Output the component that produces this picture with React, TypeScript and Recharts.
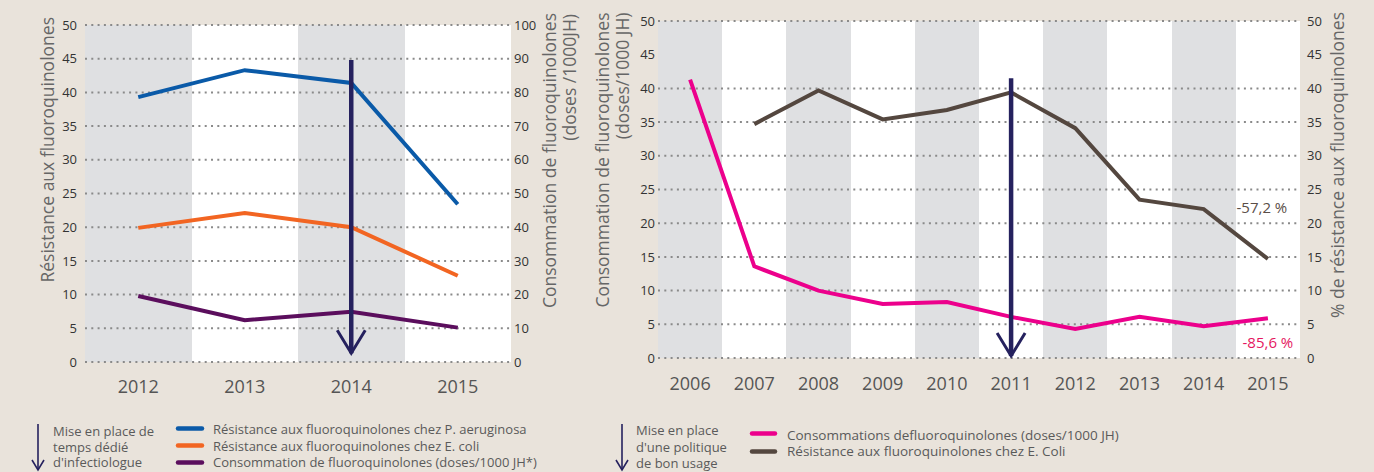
import React from 'react';
import { ComposedChart, Line, XAxis, YAxis, CartesianGrid, ReferenceLine, LabelList } from 'recharts';

const FONT = '"Open Sans", "Noto Sans", sans-serif';
const BG = '#e9e3db';
const GREY_BAND = '#dfe0e2';
const NAVY = '#25215e';
const TEXT = '#5a5a5a';

// --- chart 1 : 2012-2015
const yearsA = ['2012', '2013', '2014', '2015'];
const resPaeruginosa = [39.3, 43.3, 41.4, 23.4];
const resEcoliA = [19.9, 22.1, 20.0, 12.8];
const consoA = [19.6, 12.4, 14.9, 10.2];
const ticksLeftA = [0, 5, 10, 15, 20, 25, 30, 35, 40, 45, 50];
const ticksRightA = [0, 10, 20, 30, 40, 50, 60, 70, 80, 90, 100];
const namesA = [
  'Résistance aux fluoroquinolones chez P. aeruginosa',
  'Résistance aux fluoroquinolones chez E. coli',
  'Consommation de fluoroquinolones (doses/1000 JH*)',
];
const colorsA = ['#0a5aa8', '#f26522', '#5b0e5d'];

// --- chart 2 : 2006-2015
const yearsB = ['2006', '2007', '2008', '2009', '2010', '2011', '2012', '2013', '2014', '2015'];
const consoB = [41.3, 13.6, 10.0, 8.0, 8.3, 6.1, 4.3, 6.1, 4.7, 5.9];
const resEcoliB = [null, 34.7, 39.7, 35.4, 36.8, 39.4, 34.1, 23.5, 22.1, 14.7];
const ticksB = [0, 5, 10, 15, 20, 25, 30, 35, 40, 45, 50];
const gridB = [0, 5, 10, 15, 20, 25, 30, 35, 40, 50];
const namesB = [
  'Consommations defluoroquinolones (doses/1000 JH)',
  'Résistance aux fluoroquinolones chez E. Coli',
];
const colorsB = ['#ec008c', '#54473f'];
const changeB = ['-85,6 %', '-57,2 %'];

const dataA = yearsA.map((year, i) => ({ year, pa: resPaeruginosa[i], ec: resEcoliA[i], conso: consoA[i] }));
const dataB = yearsB.map((year, i) => ({ year, conso: consoB[i], ec: resEcoliB[i] }));

const tickStyle = { fontSize: 13, fill: '#333', fontFamily: FONT };
const yearStyle = { fontSize: 18, fill: '#555', fontFamily: FONT };

// grey / white stripes start at every band
const bandStarts = (cats: string[]) => ({ xAxis }: any) => {
  const s = xAxis?.scale;
  if (!s) return [];
  const f = typeof s === 'function' ? s : (v: string) => s.map(v);
  return cats.map((c) => f(c)).filter((v: any) => typeof v === 'number' && !isNaN(v));
};
const noLine = (p: any) => <g key={p.key ?? `v${p.index}`} />;

// dotted horizontal rules
const dotted = (values: number[]) =>
  values.map((v) => (
    <ReferenceLine key={`g${v}`} y={v} stroke="#8a8a8a" strokeDasharray="2 4.3" strokeWidth={2} />
  ));

const Arrow = (p: any) => {
  const { x1, y1, x2, y2 } = p;
  const top = Math.min(y1, y2);
  const tip = Math.max(y1, y2);
  const x = x1 ?? x2;
  return (
    <g>
      <line x1={x} y1={top} x2={x} y2={tip} stroke={NAVY} strokeWidth={4.5} />
      <polyline points={`${x - 14},${tip - 23} ${x},${tip} ${x + 14},${tip - 23}`} fill="none" stroke={NAVY} strokeWidth={3} />
    </g>
  );
};

const endLabel = (text: string, color: string, last: number, dx: number, dy: number) => (p: any) => {
  const idx = p.index;
  const isLast = idx !== undefined ? idx === last : false;
  if (!isLast) return <g key={`l${idx}`} />;
  const x = p.x ?? p.viewBox?.x;
  const y = p.y ?? p.viewBox?.y;
  return (
    <text key="end" x={x + dx} y={y + dy} textAnchor="middle" fill={color}
      style={{ fontFamily: '"Liberation Sans Narrow", "Open Sans", sans-serif', fontSize: 15 }}>
      {text}
    </text>
  );
};

const Title = ({ x, y, children, size = 17.5 }: any) => (
  <text x={x} y={y} transform={`rotate(-90 ${x} ${y})`} textAnchor="end" fill="#666"
    style={{ fontFamily: FONT, fontSize: size }}>
    {children}
  </text>
);

const legendText = { fontFamily: FONT, fontSize: 13, fill: TEXT };

export default function App() {
  return (
    <div style={{ position: 'absolute', left: 0, top: 0, width: 1374, height: 472, background: BG, overflow: 'hidden' }}>
      <div style={{ position: 'absolute', left: 0, top: 0 }}>
        <ComposedChart width={600} height={400} data={dataA} margin={{ top: 25, right: 0, bottom: 0, left: 0 }}>
          <CartesianGrid horizontal={false} verticalCoordinatesGenerator={bandStarts(yearsA)}
            verticalFill={[GREY_BAND, '#ffffff']} vertical={noLine} />
          <XAxis dataKey="year" scale="band" interval={0} axisLine={false} tickLine={false} tickSize={0} tickMargin={18} height={38} tick={yearStyle} />
          <YAxis domain={[0, 50]} ticks={ticksLeftA} interval={0} width={85} axisLine={false} tickLine={false} tickSize={0} tickMargin={8} tick={tickStyle} />
          <YAxis yAxisId="r" orientation="right" domain={[0, 100]} ticks={ticksRightA} interval={0} width={89} axisLine={false} tickLine={false} tickSize={0} tickMargin={3} tick={{ ...tickStyle, textAnchor: 'start' }} />
          {dotted(ticksLeftA)}
          <Line dataKey="pa" stroke={colorsA[0]} strokeWidth={4} dot={false} isAnimationActive={false} />
          <Line dataKey="ec" stroke={colorsA[1]} strokeWidth={4} dot={false} isAnimationActive={false} />
          <Line yAxisId="r" dataKey="conso" stroke={colorsA[2]} strokeWidth={4} dot={false} isAnimationActive={false} />
          <ReferenceLine segment={[{ x: '2014', y: 44.8 }, { x: '2014', y: 1.3 }]} shape={Arrow} />
        </ComposedChart>
      </div>

      <div style={{ position: 'absolute', left: 580, top: 0 }}>
        <ComposedChart width={780} height={396} data={dataB} margin={{ top: 21, right: 0, bottom: 0, left: 0 }}>
          <CartesianGrid horizontal={false} verticalCoordinatesGenerator={bandStarts(yearsB)}
            verticalFill={[GREY_BAND, '#ffffff']} vertical={noLine} />
          <XAxis dataKey="year" scale="band" interval={0} axisLine={false} tickLine={false} tickSize={0} tickMargin={19} height={38} tick={yearStyle} />
          <YAxis domain={[0, 50]} ticks={ticksB} interval={0} width={78} axisLine={false} tickLine={false} tickSize={0} tickMargin={3} tick={tickStyle} />
          <YAxis yAxisId="r" orientation="right" domain={[0, 50]} ticks={ticksB} interval={0} width={60} axisLine={false} tickLine={false} tickSize={0} tickMargin={7} tick={{ ...tickStyle, textAnchor: 'start' }} />
          {dotted(gridB)}
          <Line dataKey="conso" stroke={colorsB[0]} strokeWidth={4} dot={false} isAnimationActive={false}>
            <LabelList dataKey="conso" content={endLabel(changeB[0], '#e5175f', yearsB.length - 1, 0, 30)} />
          </Line>
          <Line yAxisId="r" dataKey="ec" stroke={colorsB[1]} strokeWidth={4} dot={false} isAnimationActive={false}>
            <LabelList dataKey="ec" content={endLabel(changeB[1], '#5a4e48', yearsB.length - 1, -6, -46)} />
          </Line>
          <ReferenceLine segment={[{ x: '2011', y: 41.5 }, { x: '2011', y: 0.3 }]} shape={Arrow} />
        </ComposedChart>
      </div>

      <svg width={1374} height={472} style={{ position: 'absolute', left: 0, top: 0, pointerEvents: 'none' }}>
        <Title x={53.5} y={17}>Résistance aux fluoroquinolones</Title>
        <Title x={555.5} y={13}>Consommation de fluoroquinolones</Title>
        <Title x={575.5} y={14}>(doses /1000JH)</Title>
        <Title x={608.5} y={12.5}>Consommation de fluoroquinolones</Title>
        <Title x={628.5} y={12.5}>(doses/1000 JH)</Title>
        <Title x={1343.5} y={12}>% de résistance aux fluoroquinolones</Title>

        {/* legend, left chart */}
        <line x1={38} y1={424} x2={38} y2={470} stroke={NAVY} strokeWidth={1.6} />
        <polyline points="32,460 38,470 44,460" fill="none" stroke={NAVY} strokeWidth={1.6} />
        <text x={53} y={436} style={legendText}>Mise en place de</text>
        <text x={53} y={451.5} style={legendText}>temps dédié</text>
        <text x={53} y={467} style={legendText}>d'infectiologue</text>
        {namesA.map((n, i) => (
          <g key={n}>
            <line x1={178} x2={202} y1={428.5 + i * 17} y2={428.5 + i * 17} stroke={colorsA[i]} strokeWidth={4.5} strokeLinecap="round" />
            <text x={213} y={434 + i * 16.5} style={legendText}>{n}</text>
          </g>
        ))}

        {/* legend, right chart */}
        <line x1={622} y1={424} x2={622} y2={470} stroke={NAVY} strokeWidth={1.6} />
        <polyline points="616,460 622,470 628,460" fill="none" stroke={NAVY} strokeWidth={1.6} />
        <text x={636} y={435} style={legendText}>Mise en place</text>
        <text x={636} y={451.5} style={legendText}>d'une politique</text>
        <text x={636} y={467.5} style={legendText}>de bon usage</text>
        {namesB.map((n, i) => (
          <g key={n}>
            <line x1={752} x2={775} y1={433.5 + i * 18} y2={433.5 + i * 18} stroke={colorsB[i]} strokeWidth={4.5} strokeLinecap="round" />
            <text x={787} y={439.5 + i * 16.5} style={{ ...legendText, fontSize: 13.5 }}>{n}</text>
          </g>
        ))}
      </svg>
    </div>
  );
}
